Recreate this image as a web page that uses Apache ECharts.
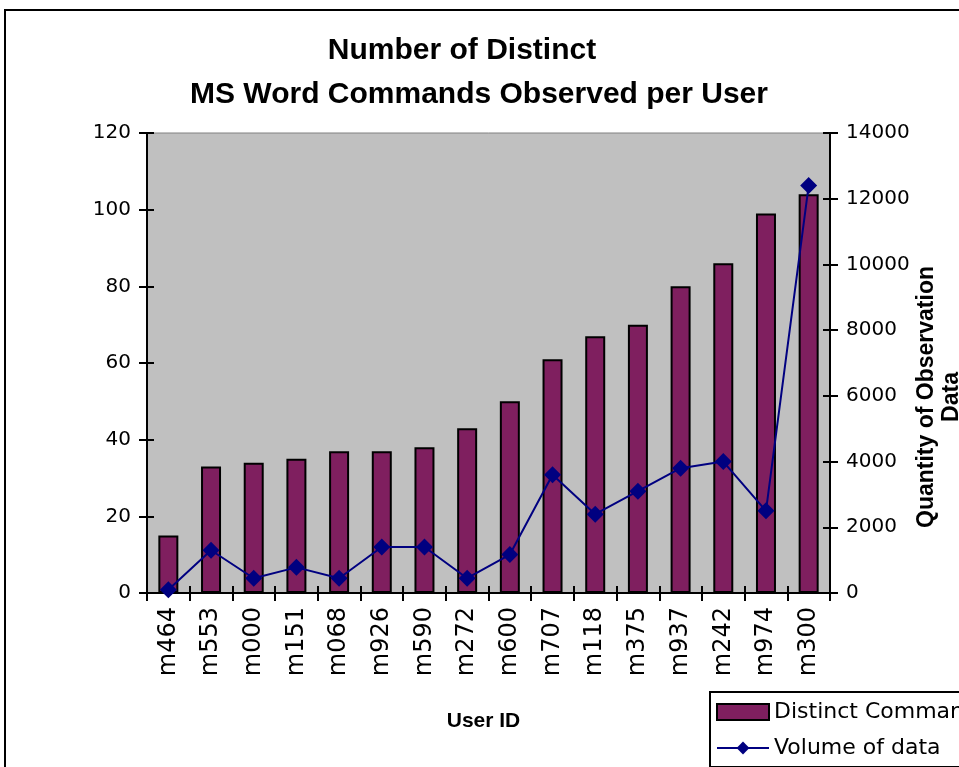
<!DOCTYPE html>
<html>
<head>
<meta charset="utf-8">
<script src="https://cdn.jsdelivr.net/npm/echarts@6/dist/echarts.min.js"></script>
<style>
  html, body { margin: 0; padding: 0; background: #fff; }
  #chart { width: 959px; height: 767px; }
</style>
</head>
<body>
<div id="chart"></div>
<script>
// user ids along the x axis
var users = ["m464", "m553", "m000", "m151", "m068", "m926", "m590", "m272",
  "m600", "m707", "m118", "m375", "m937", "m242", "m974", "m300"];
// distinct commands per user (left axis)
var distinctCommands = [15, 33, 34, 35, 37, 37, 38, 43, 50, 61, 67, 70, 80, 86, 99, 104];
// volume of observation data (right axis)
var volumeOfData = [100, 1300, 450, 780, 450, 1400, 1400, 450, 1170, 3600, 2400, 3100, 3800, 4000, 2500, 12400];

var chart = echarts.init(document.getElementById("chart"));

var labelFont = "'DejaVu Sans', sans-serif";
var boldFont = "'Liberation Sans', Arial, sans-serif";

var option = {
  animation: false,
  backgroundColor: "#fff",
  title: [
    {
      text: "Number of Distinct",
      left: 457, top: 31, textAlign: "center",
      textStyle: { fontFamily: boldFont, fontWeight: "bold", fontSize: 30, color: "#000" }
    },
    {
      text: "MS Word Commands Observed per User",
      left: 474, top: 75, textAlign: "center",
      textStyle: { fontFamily: boldFont, fontWeight: "bold", fontSize: 30, color: "#000" }
    }
  ],
  legend: {
    orient: "vertical",
    left: 710, top: 692,
    padding: [9, 8, 8, 6],
    itemGap: 14,
    itemWidth: 52,
    itemHeight: 16,
    borderColor: "#000",
    borderWidth: 2,
    backgroundColor: "#fff",
    textStyle: { fontFamily: labelFont, fontSize: 22, color: "#000" },
    data: [{ name: "Distinct Commands", icon: "rect" }, { name: "Volume of data" }]
  },
  grid: {
    left: 147, right: 129, top: 133, bottom: 174,
    show: true,
    backgroundColor: "#C0C0C0",
    borderColor: "#808080",
    borderWidth: 1
  },
  xAxis: [
    {
      type: "category",
      data: users,
      boundaryGap: true,
      axisLine: { lineStyle: { color: "#000", width: 2 } },
      axisTick: { show: true, length: 8, lineStyle: { color: "#000", width: 2 } },
      axisLabel: {
        rotate: 90, margin: 14, color: "#000",
        fontFamily: labelFont, fontSize: 24
      },
      name: "User ID",
      nameLocation: "middle",
      nameGap: 118,
      nameTextStyle: {
        fontFamily: boldFont, fontWeight: "bold", fontSize: 21, color: "#000",
        padding: [0, 10, 0, 0]
      },
      splitLine: { show: false }
    },
    {
      // inner half of the crossing ticks
      type: "category",
      data: users,
      position: "bottom",
      axisLine: { show: false },
      axisTick: { show: true, inside: true, length: 7, lineStyle: { color: "#000", width: 2 } },
      axisLabel: { show: false },
      splitLine: { show: false }
    }
  ],
  yAxis: [
    {
      type: "value",
      min: 0, max: 120, interval: 20,
      position: "left",
      axisLine: { show: true, lineStyle: { color: "#000", width: 2 } },
      axisTick: { show: true, length: 8, lineStyle: { color: "#000", width: 2 } },
      axisLabel: { margin: 16, color: "#000", fontFamily: labelFont, fontSize: 20 },
      splitLine: { show: false }
    },
    {
      type: "value",
      min: 0, max: 14000, interval: 2000,
      position: "right",
      axisLine: { show: true, lineStyle: { color: "#000", width: 2 } },
      axisTick: { show: true, length: 8, lineStyle: { color: "#000", width: 2 } },
      axisLabel: {
        margin: 16, color: "#000", fontFamily: labelFont, fontSize: 20,
        formatter: function (v) { return String(v); }
      },
      splitLine: { show: false }
    },
    {
      type: "value",
      min: 0, max: 120, interval: 20,
      position: "left",
      axisLine: { show: false },
      axisTick: { show: true, inside: true, length: 7, lineStyle: { color: "#000", width: 2 } },
      axisLabel: { show: false },
      splitLine: { show: false }
    },
    {
      type: "value",
      min: 0, max: 14000, interval: 2000,
      position: "right",
      axisLine: { show: false },
      axisTick: { show: true, inside: true, length: 7, lineStyle: { color: "#000", width: 2 } },
      axisLabel: { show: false },
      splitLine: { show: false }
    }
  ],
  graphic: [
    {
      type: "rect",
      z: -10,
      shape: { x: 5, y: 10, width: 1000, height: 800 },
      style: { fill: "none", stroke: "#000", lineWidth: 2 }
    },
    {
      type: "text",
      x: 939, y: 397,
      rotation: Math.PI / 2,
      style: {
        text: "Quantity of Observation\nData",
        align: "center",
        verticalAlign: "middle",
        lineHeight: 25,
        font: "bold 23px " + boldFont,
        fill: "#000"
      }
    }
  ],
  series: [
    {
      name: "Distinct Commands",
      type: "bar",
      xAxisIndex: 0,
      yAxisIndex: 0,
      barWidth: 20,
      itemStyle: { color: "#7F1F5F", borderColor: "#000", borderWidth: 2 },
      data: distinctCommands
    },
    {
      name: "Volume of data",
      type: "line",
      xAxisIndex: 0,
      yAxisIndex: 1,
      symbol: "diamond",
      symbolSize: 17,
      lineStyle: { color: "#000080", width: 2 },
      itemStyle: { color: "#000080" },
      data: volumeOfData
    }
  ]
};

chart.setOption(option);
</script>
</body>
</html>
